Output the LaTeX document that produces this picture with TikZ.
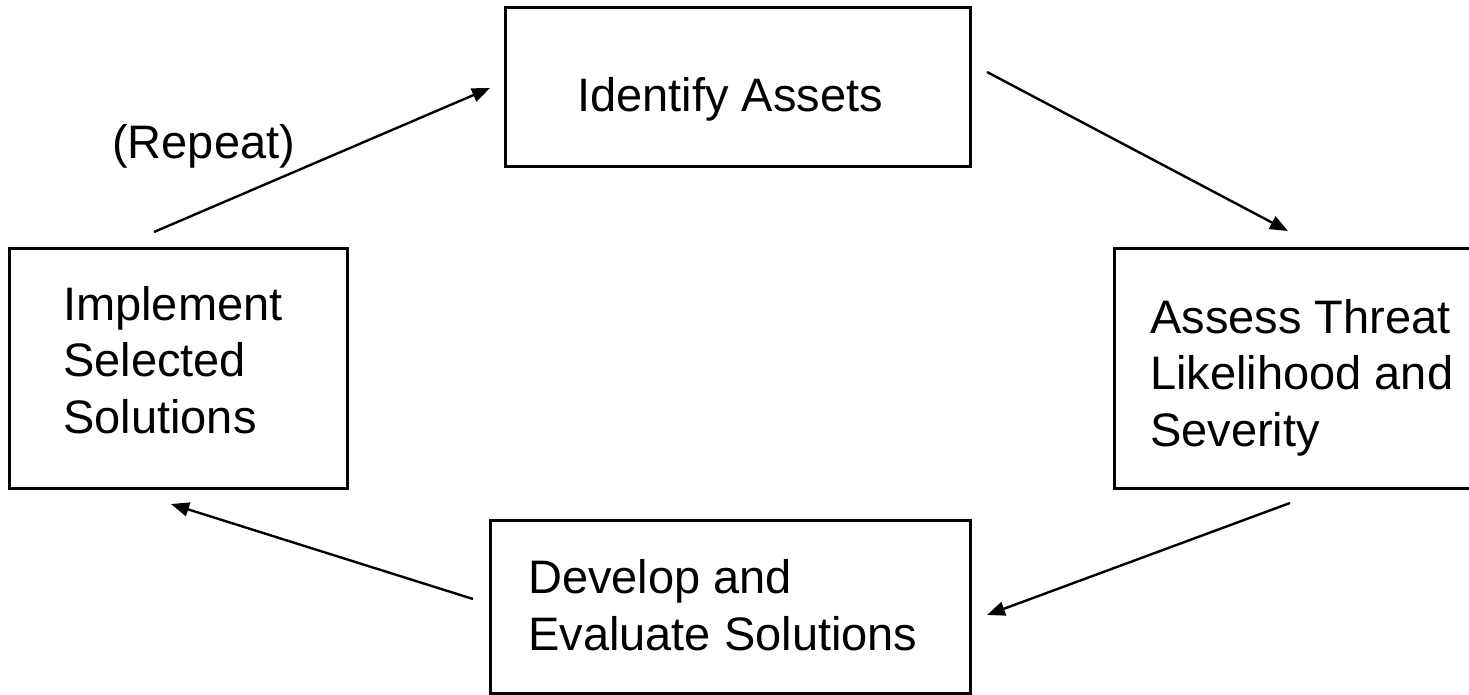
\documentclass[tikz,border=0pt]{standalone}
\usepackage{fontspec}
\setmainfont{Liberation Sans}
\usetikzlibrary{arrows.meta}
\begin{document}
\begin{tikzpicture}[x=1pt,y=-1pt,
  stagebox/.style={draw=black, line width=3pt, rectangle, inner sep=0pt},
  stagetext/.style={anchor=base west, inner sep=0pt, align=left, font=\fontsize{47}{56.5}\selectfont},
  flow/.style={line width=2.4pt, -{Triangle[length=18pt,width=14pt]}}]
\clip (0,0) rectangle (1469,695);
\fill[white] (0,0) rectangle (1469,695);
% boxes
\node[stagebox, minimum width=465pt, minimum height=159pt] (ident) at (737.5,87.5) {};
\node[stagebox, minimum width=380pt, minimum height=240pt] (assess) at (1304,368) {};
\node[stagebox, minimum width=338pt, minimum height=240pt] (impl) at (178,368) {};
\node[stagebox, minimum width=480pt, minimum height=173pt] (devel) at (730,606.5) {};
% texts (base anchor = baseline of the last line)
\node[stagetext] (identtxt) at (577,112) {Identify Assets};
\node[stagetext] (assesstxt) at (1150,446) {Assess Threat\\Likelihood and\\Severity};
\node[stagetext] (impltxt) at (63,433) {Implement\\Selected\\Solutions};
\node[stagetext] (develtxt) at (528,650) {Develop and\\Evaluate Solutions};
\node[stagetext] (repeat) at (112,159) {(Repeat)};
% connector ends
\coordinate (a1s) at (154,232);
\coordinate (a1e) at (490,88);
\coordinate (a2s) at (987,72);
\coordinate (a2e) at (1288,231);
\coordinate (a3s) at (1290,503);
\coordinate (a3e) at (987,615);
\coordinate (a4s) at (473,599);
\coordinate (a4e) at (171,504);
\draw[flow] (a1s) -- (a1e);
\draw[flow] (a2s) -- (a2e);
\draw[flow] (a3s) -- (a3e);
\draw[flow] (a4s) -- (a4e);
\end{tikzpicture}
\end{document}
